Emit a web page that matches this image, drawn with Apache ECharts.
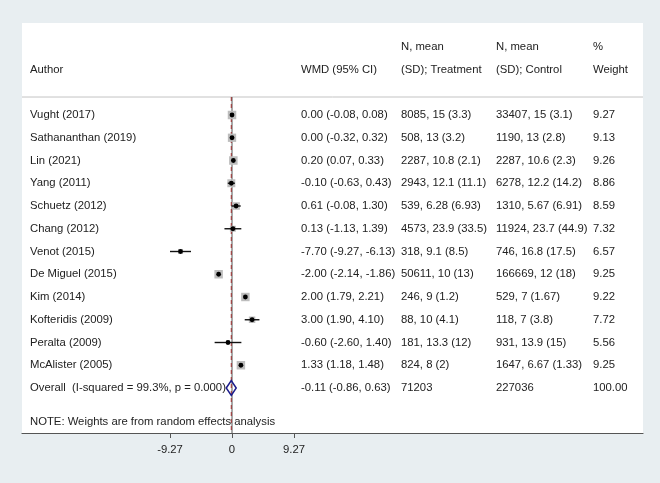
<!DOCTYPE html>
<html><head><meta charset="utf-8">
<script src="https://cdn.jsdelivr.net/npm/echarts@6/dist/echarts.min.js"></script>
<style>html,body{margin:0;padding:0;background:#e8eef1}#c{width:660px;height:483px}</style>
</head><body><div id="c"></div>
<script>
const authors = ['Vught (2017)','Sathananthan (2019)','Lin (2021)','Yang (2011)','Schuetz (2012)','Chang (2012)','Venot (2015)','De Miguel (2015)','Kim (2014)','Kofteridis (2009)','Peralta (2009)','McAlister (2005)'];
const wmd    = [0.00, 0.00, 0.20, -0.10, 0.61, 0.13, -7.70, -2.00, 2.00, 3.00, -0.60, 1.33];
const ciLow  = [-0.08, -0.32, 0.07, -0.63, -0.08, -1.13, -9.27, -2.14, 1.79, 1.90, -2.60, 1.18];
const ciHigh = [0.08, 0.32, 0.33, 0.43, 1.30, 1.39, -6.13, -1.86, 2.21, 4.10, 1.40, 1.48];
const treatment = ['8085, 15 (3.3)','508, 13 (3.2)','2287, 10.8 (2.1)','2943, 12.1 (11.1)','539, 6.28 (6.93)','4573, 23.9 (33.5)','318, 9.1 (8.5)','50611, 10 (13)','246, 9 (1.2)','88, 10 (4.1)','181, 13.3 (12)','824, 8 (2)'];
const control = ['33407, 15 (3.1)','1190, 13 (2.8)','2287, 10.6 (2.3)','6278, 12.2 (14.2)','1310, 5.67 (6.91)','11924, 23.7 (44.9)','746, 16.8 (17.5)','166669, 12 (18)','529, 7 (1.67)','118, 7 (3.8)','931, 13.9 (15)','1647, 6.67 (1.33)'];
const weights = [9.27, 9.13, 9.26, 8.86, 8.59, 7.32, 6.57, 9.25, 9.22, 7.72, 5.56, 9.25];
const overallLabel = 'Overall  (I-squared = 99.3%, p = 0.000)';
const overallWmd = -0.11, overallLow = -0.86, overallHigh = 0.63;
const overallTreatment = '71203', overallControl = '227036', overallWeight = '100.00';
const headerTop = ['', '', 'N, mean', 'N, mean', '%'];
const headerBottom = ['Author', 'WMD (95% CI)', '(SD); Treatment', '(SD); Control', 'Weight'];
const noteText = 'NOTE: Weights are from random effects analysis';
const xTicks = [-9.27, 0, 9.27];

const FONT = '"Liberation Sans", Arial, sans-serif';
const TXT = '#222';
const colX = [8, 279, 379, 474, 571]; // offsets from grid left
const f2 = v => v.toFixed(2);
const ciStr = (m, l, h) => f2(m) + ' (' + f2(l) + ', ' + f2(h) + ')';

// table rows
const tableRows = authors.map((a, i) => [i, a, ciStr(wmd[i], ciLow[i], ciHigh[i]), treatment[i], control[i], f2(weights[i])]);
tableRows.push([12, overallLabel, ciStr(overallWmd, overallLow, overallHigh), overallTreatment, overallControl, overallWeight]);
tableRows.push([-2.99].concat(headerTop));
tableRows.push([-1.98].concat(headerBottom));
tableRows.push([13.49, noteText, '', '', '', '']);

const forestData = authors.map((a, i) => [wmd[i], i, ciLow[i], ciHigh[i], weights[i]]);
const HEADER_ROW = -0.79;

const chart = echarts.init(document.getElementById('c'));
chart.setOption({
  backgroundColor: '#e8eef1',
  animation: false,
  grid: { left: 22, right: 17, top: 23, bottom: 50, show: true, backgroundColor: '#fff', borderWidth: 0 },
  xAxis: {
    type: 'value', min: -31.40, max: 61.45,
    splitLine: { show: false },
    axisLine: { show: true, onZero: false, lineStyle: { color: '#555', width: 1.2 } },
    axisTick: { show: true, customValues: xTicks, length: 5, lineStyle: { color: '#555' } },
    axisLabel: { customValues: xTicks, formatter: v => (v === 0 ? '0' : f2(v)), color: TXT, fontSize: 11.3, fontFamily: FONT, margin: 11 }
  },
  yAxis: { type: 'value', inverse: true, min: -4.044, max: 13.978, show: false },
  series: [
    {
      type: 'custom', clip: false, z: 1,
      data: [[0]],
      renderItem: (params, api) => {
        const cs = params.coordSys;
        const y = api.coord([0, HEADER_ROW])[1];
        return { type: 'line', shape: { x1: cs.x, y1: y, x2: cs.x + cs.width, y2: y }, style: { stroke: '#c4c4c4', lineWidth: 1 } };
      }
    },
    {
      type: 'custom', clip: false, z: 2,
      data: [[0, 0], [overallWmd, 1]],
      renderItem: (params, api) => {
        const cs = params.coordSys;
        const x = api.coord([api.value(0), 0])[0];
        const y1 = api.coord([0, HEADER_ROW])[1];
        const y2 = cs.y + cs.height;
        if (api.value(1) === 0) {
          return { type: 'line', shape: { x1: x, y1: y1, x2: x, y2: y2 }, style: { stroke: '#555', lineWidth: 1 } };
        }
        return { type: 'line', shape: { x1: x, y1: y1, x2: x, y2: y2 }, style: { stroke: '#9b2a2a', lineWidth: 1, lineDash: [4, 3] } };
      }
    },
    {
      type: 'custom', clip: false, z: 3,
      data: forestData,
      renderItem: (params, api) => {
        const r = api.value(1);
        const p = api.coord([api.value(0), r]);
        const pl = api.coord([api.value(2), r]);
        const ph = api.coord([api.value(3), r]);
        const side = 8.5 * Math.pow(api.value(4) / 9.27, 1.5);
        return {
          type: 'group',
          children: [
            { type: 'rect', shape: { x: p[0] - side / 2, y: p[1] - side / 2, width: side, height: side }, style: { fill: '#bdbdbd' } },
            { type: 'line', shape: { x1: pl[0], y1: p[1], x2: ph[0], y2: p[1] }, style: { stroke: '#111', lineWidth: 1.4 } },
            { type: 'circle', shape: { cx: p[0], cy: p[1], r: 2.4 }, style: { fill: '#000' } }
          ]
        };
      }
    },
    {
      type: 'custom', clip: false, z: 4,
      data: [[overallWmd, 12, overallLow, overallHigh]],
      renderItem: (params, api) => {
        const r = api.value(1);
        const p = api.coord([api.value(0), r]);
        const pl = api.coord([api.value(2), r]);
        const ph = api.coord([api.value(3), r]);
        const h = 7.5;
        return {
          type: 'polygon',
          shape: { points: [[pl[0], p[1]], [p[0], p[1] - h], [ph[0], p[1]], [p[0], p[1] + h]] },
          style: { fill: 'none', stroke: '#1c1c8c', lineWidth: 1.5 }
        };
      }
    },
    {
      type: 'custom', clip: false, z: 5,
      data: tableRows,
      renderItem: (params, api) => {
        const cs = params.coordSys;
        const row = tableRows[params.dataIndex];
        const y = api.coord([0, row[0]])[1];
        const children = [];
        for (let c = 0; c < 5; c++) {
          const t = row[c + 1];
          if (!t) continue;
          children.push({ type: 'text', x: cs.x + colX[c], y: y, style: { text: t, fill: TXT, font: '11.3px ' + FONT, verticalAlign: 'middle', align: 'left' } });
        }
        return { type: 'group', children };
      }
    }
  ]
});
</script></body></html>
